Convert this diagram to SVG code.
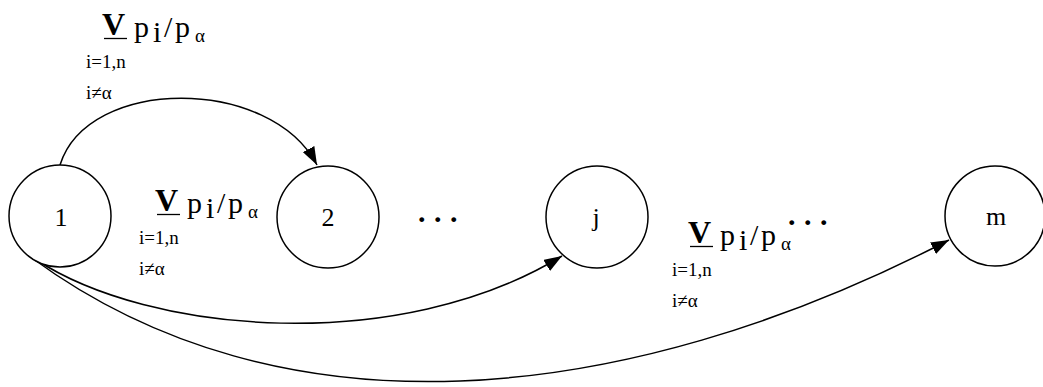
<svg xmlns="http://www.w3.org/2000/svg" width="1043" height="387" viewBox="0 0 1043 387">
<style>
text{font-family:'Liberation Serif','Times New Roman',serif;fill:#000}
.node{fill:#fff;stroke:#000;stroke-width:1.5}
.nl{font-size:26px;text-anchor:middle}
.v{font-size:32px;font-weight:bold}
.big{font-size:30px}
.sub{font-size:19px}
.small{font-size:19px}
.dots{font-size:30px;font-weight:bold;letter-spacing:8.5px}
.edge{fill:none;stroke:#000;stroke-width:1.5}
.ul{stroke:#000;stroke-width:1.3}
</style>
<defs>
<marker id="arr" markerUnits="userSpaceOnUse" markerWidth="19" markerHeight="13" refX="18" refY="6.5" orient="auto">
<path d="M0,0 L18,6.5 L0,13 z" fill="#000"/>
</marker>
</defs>
<g id="connectors">
<path class="edge" d="M60,165 C88,76 270,76 317,165" marker-end="url(#arr)"/>
<path class="edge" d="M35,259 C150,335 400,355 562,256" marker-end="url(#arr)"/>
<path class="edge" d="M32,258 C280,440 620,410 949,240" marker-end="url(#arr)"/>
</g>
<g id="node1"><circle class="node" cx="60" cy="216" r="51"/><text class="nl" x="61" y="226">1</text></g>
<g id="node2"><circle class="node" cx="328" cy="217" r="51"/><text class="nl" x="328" y="226">2</text></g>
<g id="nodej"><circle class="node" cx="597" cy="217" r="51"/><text class="nl" x="596" y="226">j</text></g>
<g id="nodem"><circle class="node" cx="995" cy="216" r="50"/><text class="nl" x="996" y="225">m</text></g>
<g id="label1">
<text class="v" x="102" y="35">V</text><line class="ul" x1="104" y1="38.5" x2="127" y2="38.5"/>
<text class="big" x="134" y="37">p</text><text class="big" x="153" y="42">i</text><text class="big" x="164" y="37">/</text><text class="big" x="175" y="37">p</text><text class="sub" x="195" y="42">α</text>
<text class="small" x="86" y="68">i=1,n</text><text class="small" x="86" y="99">i≠α</text>
</g>
<g id="label2">
<text class="v" x="155" y="211">V</text><line class="ul" x1="157" y1="214.5" x2="180" y2="214.5"/>
<text class="big" x="187" y="213">p</text><text class="big" x="206" y="218">i</text><text class="big" x="217" y="213">/</text><text class="big" x="228" y="213">p</text><text class="sub" x="248" y="218">α</text>
<text class="small" x="139" y="244">i=1,n</text><text class="small" x="139" y="275">i≠α</text>
</g>
<g id="label3">
<text class="v" x="688" y="243">V</text><line class="ul" x1="690" y1="246.5" x2="713" y2="246.5"/>
<text class="big" x="720" y="245">p</text><text class="big" x="739" y="250">i</text><text class="big" x="750" y="245">/</text><text class="big" x="761" y="245">p</text><text class="sub" x="781" y="250">α</text>
<text class="small" x="672" y="276">i=1,n</text><text class="small" x="672" y="307">i≠α</text>
</g>
<g id="dots">
<text class="dots" x="418" y="222">...</text>
<text class="dots" x="788" y="225">...</text>
</g>
</svg>
